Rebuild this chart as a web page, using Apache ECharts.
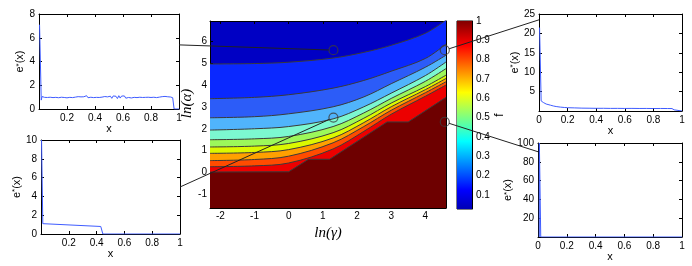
<!DOCTYPE html>
<html><head><meta charset="utf-8">
<script src="https://cdn.jsdelivr.net/npm/echarts@6/dist/echarts.min.js"></script>
<style>html,body{margin:0;padding:0;background:#fff}#c{width:692px;height:266px}</style>
</head><body><div id="c"></div>
<script>
// ---------------- DATA ----------------
// e*(x) profiles of the four inset panels
const profileTopLeft = [[0.004,7.1],[0.011,7.0],[0.016,0.75],[0.022,1.05],[0.03,1.05],[0.04,0.98],[0.05,1.02],[0.06,0.97],[0.07,1.04],[0.08,0.99],[0.09,1.01],[0.10,0.96],[0.11,1.03],[0.12,0.98],[0.13,1.06],[0.14,0.95],[0.15,1.02],[0.16,0.99],[0.17,1.04],[0.18,0.97],[0.19,1.08],[0.20,0.94],[0.21,1.05],[0.22,0.98],[0.23,1.02],[0.24,0.96],[0.25,1.03],[0.26,1.0],[0.27,0.97],[0.28,1.04],[0.29,0.99],[0.30,1.02],[0.31,0.97],[0.32,1.03],[0.33,0.98],[0.34,1.12],[0.35,0.95],[0.36,1.04],[0.37,0.99],[0.38,1.01],[0.39,0.96],[0.40,1.03],[0.41,0.98],[0.42,1.02],[0.43,0.97],[0.44,1.04],[0.45,1.0],[0.46,0.96],[0.47,1.05],[0.48,0.99],[0.49,1.02],[0.50,0.93],[0.51,1.08],[0.52,0.9],[0.53,1.1],[0.54,0.94],[0.55,1.07],[0.56,0.88],[0.57,1.12],[0.58,0.92],[0.59,1.09],[0.60,0.95],[0.61,1.1],[0.62,0.91],[0.63,1.06],[0.64,0.97],[0.65,1.11],[0.66,0.93],[0.67,1.04],[0.68,0.98],[0.69,1.02],[0.70,0.96],[0.71,1.05],[0.72,0.99],[0.73,1.01],[0.74,0.97],[0.75,1.03],[0.76,0.98],[0.77,1.02],[0.78,0.99],[0.79,1.04],[0.80,0.97],[0.81,1.01],[0.82,0.99],[0.83,1.03],[0.84,0.96],[0.85,1.02],[0.86,1.0],[0.87,0.97],[0.88,1.04],[0.89,0.98],[0.90,1.06],[0.91,0.95],[0.92,1.03],[0.93,0.99],[0.94,1.01],[0.95,1.0],[0.955,0.95],[0.965,0],[1,0]];
const profileBottomLeft = [[0.004,10],[0.009,10],[0.013,1.1],[0.43,0.8],[0.445,0],[1,0]];
const profileTopRight = [[0.004,21.5],[0.01,21.3],[0.015,2.6],[0.02,2.4],[0.03,2.2],[0.04,2.0],[0.05,1.8],[0.06,1.7],[0.08,1.5],[0.10,1.3],[0.12,1.15],[0.15,1.0],[0.18,0.9],[0.20,0.85],[0.25,0.8],[0.30,0.74],[0.35,0.72],[0.40,0.69],[0.45,0.7],[0.50,0.67],[0.55,0.68],[0.60,0.66],[0.65,0.67],[0.70,0.65],[0.75,0.66],[0.80,0.64],[0.85,0.65],[0.90,0.64],[0.93,0.63],[0.945,0.3],[0.955,0],[1,0]];
const profileBottomRight = [[0.009,0],[0.0095,100],[0.018,100],[0.019,0],[1,0]];

// contour lines of f over (ln gamma, ln alpha)
const lnGamma = [-2.3026, -1, 0, 1.3, 2.2, 3, 4, 4.6052];
const contour1 = [4.95, 4.97, 5.03, 5.22, 5.48, 5.8, 6.35, 6.95];
const contour2 = [3.37, 3.43, 3.55, 3.85, 4.2, 4.62, 5.2, 5.86];
const contour3 = [2.5, 2.55, 2.68, 3.0, 3.45, 4.05, 4.8, 5.35];
const contour4 = [1.94, 2.0, 2.1, 2.45, 3.0, 3.62, 4.42, 5.04];
const contour5 = [1.5, 1.54, 1.65, 2.1, 2.72, 3.38, 4.16, 4.74];
const contour6 = [1.17, 1.21, 1.33, 1.82, 2.48, 3.17, 3.92, 4.44];
const contour7 = [0.88, 0.92, 1.05, 1.58, 2.28, 3.0, 3.78, 4.29];
const contour8 = [0.55, 0.6, 0.75, 1.36, 2.1, 2.84, 3.64, 4.14];
const contour9 = [0.27, 0.31, 0.44, 1.08, 1.88, 2.66, 3.48, 3.99];
// boundary of the f = 1 region (stepped)
const edgeGamma = [-2.3026, 0, 0.58, 1.2, 2.88, 3.5, 4.6052];
const edgeAlpha = [0.03, 0.04, 0.61, 0.61, 2.31, 2.31, 3.43];

// marked parameter points (ln gamma, ln alpha)
const markedPoints = [[1.31, 5.58], [4.57, 5.58], [1.31, 2.51], [4.57, 2.31]];
// where the callout lines meet each inset (inset data coords)
const insetAnchors = [[1, 5.4], [0, 23.5], [1, 5.0], [0, 90.7]];

// tick labels
const mainXTicks = [-2, -1, 0, 1, 2, 3, 4];
const mainYTicks = [-1, 0, 1, 2, 3, 4, 5, 6];
const cbarTicks = [0.1, 0.2, 0.3, 0.4, 0.5, 0.6, 0.7, 0.8, 0.9, 1];

// ---------------- STYLE ----------------
const bandColors = ['#0a28ff', '#2c5cf8', '#50b4fc', '#7cf8d0', '#9cf85a', '#dcf800', '#ffa000', '#ff4c00', '#ec0000'];
const topBandColor = '#0000c4';
const fullColor = '#6e0000';
const lineBlue = '#3f5cff';
const SANS = 'Liberation Sans';
const SERIF = 'Liberation Serif';

const chart = echarts.init(document.getElementById('c'), null, {renderer: 'canvas'});

const grids = [
  {left: 39, top: 14, width: 140, height: 95},     // 0 top-left
  {left: 41, top: 140, width: 139, height: 94},    // 1 bottom-left
  {left: 210, top: 21, width: 236, height: 187, show: true, backgroundColor: topBandColor, borderWidth: 0}, // 2 main
  {left: 457, top: 21, width: 15, height: 188, show: true, borderColor: '#000', borderWidth: 1}, // 3 colorbar
  {left: 539, top: 14, width: 143, height: 97},    // 4 top-right
  {left: 538, top: 143, width: 144, height: 94}    // 5 bottom-right
];

const xAxes = [], yAxes = [], series = [];
const lineAx = {show: true, onZero: false, lineStyle: {color: '#000', width: 1}};
const tickIn = (extra) => Object.assign({show: true, inside: true, length: 3, lineStyle: {color: '#000', width: 1}}, extra || {});
const lbl = (extra) => Object.assign({color: '#000', fontSize: 10, fontFamily: SANS}, extra || {});

const eName = '{a|e}{s|*}{a|(x)}';
const eNameStyle = {rich: {a: {fontSize: 11, fontFamily: SANS, color: '#000'}, s: {fontSize: 8, fontFamily: SANS, color: '#000', verticalAlign: 'top'}}};

function addInset(gi, ymax, yint, showY0, showX0, xGap, yGap) {
  const xi = xAxes.length, yi = yAxes.length;
  xAxes.push({gridIndex: gi, type: 'value', position: 'bottom', min: 0, max: 1, interval: 0.2,
    axisLine: lineAx, axisTick: tickIn(), splitLine: {show: false},
    axisLabel: lbl({margin: 4, showMinLabel: showX0}),
    name: 'x', nameLocation: 'middle', nameGap: xGap, nameTextStyle: {fontSize: 11, fontFamily: SANS, color: '#000'}});
  xAxes.push({gridIndex: gi, type: 'value', position: 'top', min: 0, max: 1, interval: 0.2,
    axisLine: lineAx, axisTick: tickIn(), splitLine: {show: false}, axisLabel: {show: false}});
  yAxes.push({gridIndex: gi, type: 'value', position: 'left', min: 0, max: ymax, interval: yint,
    axisLine: lineAx, axisTick: tickIn(), splitLine: {show: false},
    axisLabel: lbl({margin: 4, showMinLabel: showY0}),
    name: eName, nameLocation: 'middle', nameGap: yGap, nameRotate: 90, nameTextStyle: eNameStyle});
  yAxes.push({gridIndex: gi, type: 'value', position: 'right', min: 0, max: ymax, interval: yint,
    axisLine: lineAx, axisTick: tickIn(), splitLine: {show: false}, axisLabel: {show: false}});
  return {xi, yi};
}

const pTL = addInset(0, 8, 2, true, false, 9, 13);
const pBL = addInset(1, 10, 2, true, false, 9, 15);

// main contour panel
const pMain = {xi: xAxes.length, yi: yAxes.length};
xAxes.push({gridIndex: 2, type: 'value', position: 'bottom', min: -2.3026, max: 4.6052,
  axisLine: lineAx, axisTick: tickIn({customValues: mainXTicks}), splitLine: {show: false},
  axisLabel: lbl({margin: 3, customValues: mainXTicks}),
  name: 'ln(γ)', nameLocation: 'middle', nameGap: 8,
  nameTextStyle: {fontSize: 15, fontFamily: SERIF, fontStyle: 'italic', color: '#000'}});
xAxes.push({gridIndex: 2, type: 'value', position: 'top', min: -2.3026, max: 4.6052,
  axisLine: lineAx, axisTick: tickIn({customValues: mainXTicks}), splitLine: {show: false}, axisLabel: {show: false}});
yAxes.push({gridIndex: 2, type: 'value', position: 'left', min: -1.6094, max: 6.9078,
  axisLine: lineAx, axisTick: tickIn({customValues: mainYTicks}), splitLine: {show: false},
  axisLabel: lbl({margin: 3, customValues: mainYTicks}),
  name: 'ln(α)', nameLocation: 'middle', nameGap: 6, nameRotate: 90,
  nameTextStyle: {fontSize: 15, fontFamily: SERIF, fontStyle: 'italic', color: '#000', padding: [0, 0, 0, 22]}});
yAxes.push({gridIndex: 2, type: 'value', position: 'right', min: -1.6094, max: 6.9078,
  axisLine: lineAx, axisTick: tickIn({customValues: mainYTicks}), splitLine: {show: false}, axisLabel: {show: false}});

// colorbar
const pBar = {xi: xAxes.length, yi: yAxes.length};
xAxes.push({gridIndex: 3, type: 'category', data: ['f'], show: false});
yAxes.push({gridIndex: 3, type: 'value', position: 'right', min: 0.028, max: 1,
  axisLine: lineAx, axisTick: tickIn({customValues: cbarTicks}), splitLine: {show: false},
  axisLabel: lbl({margin: 4, customValues: cbarTicks}),
  name: 'f', nameLocation: 'middle', nameGap: 12, nameRotate: 90,
  nameTextStyle: {fontSize: 12, fontFamily: SANS, color: '#000'}});

const pTR = addInset(4, 25, 5, false, true, 9, 17);
const pBR = addInset(5, 100, 20, false, true, 9, 20);

// inset profile series
[[pTL, profileTopLeft], [pBL, profileBottomLeft], [pTR, profileTopRight], [pBR, profileBottomRight]].forEach(([p, d]) => {
  series.push({type: 'line', xAxisIndex: p.xi, yAxisIndex: p.yi, data: d, showSymbol: false, symbol: 'none',
    lineStyle: {color: lineBlue, width: 1}, clip: true});
});

// filled contours
const contours = [contour1, contour2, contour3, contour4, contour5, contour6, contour7, contour8, contour9];
contours.forEach((c, k) => {
  series.push({type: 'line', xAxisIndex: pMain.xi, yAxisIndex: pMain.yi,
    data: lnGamma.map((g, i) => [g, c[i]]), smooth: 0.35, symbol: 'none', showSymbol: false, clip: true,
    lineStyle: {color: '#3a3a3a', width: 1}, areaStyle: {color: bandColors[k], opacity: 1, origin: 'start'}});
});
series.push({type: 'line', xAxisIndex: pMain.xi, yAxisIndex: pMain.yi,
  data: edgeGamma.map((g, i) => [g, edgeAlpha[i]]), symbol: 'none', showSymbol: false, clip: true,
  lineStyle: {color: '#3a3a3a', width: 1}, areaStyle: {color: fullColor, opacity: 1, origin: 'start'}});
series.push({type: 'scatter', xAxisIndex: pMain.xi, yAxisIndex: pMain.yi, data: markedPoints,
  symbol: 'circle', symbolSize: 9, clip: false, z: 5,
  itemStyle: {color: 'rgba(0,0,0,0)', borderColor: '#3c3c3c', borderWidth: 1.2}});

// colorbar
series.push({type: 'bar', xAxisIndex: pBar.xi, yAxisIndex: pBar.yi, data: [1], barWidth: '100%',
  itemStyle: {color: new echarts.graphic.LinearGradient(0, 1, 0, 0, [
    {offset: 0, color: '#0000b4'}, {offset: 0.1, color: '#0000ff'}, {offset: 0.36, color: '#00ffff'},
    {offset: 0.62, color: '#ffff00'}, {offset: 0.87, color: '#ff0000'}, {offset: 1, color: '#800000'}])}});

chart.setOption({animation: false, grid: grids, xAxis: xAxes, yAxis: yAxes, series: series});

// callout lines from marked points to insets
const insets = [pTL, pTR, pBL, pBR];
const graphics = [];
insets.forEach((p, k) => {
  const a = chart.convertToPixel({xAxisIndex: p.xi, yAxisIndex: p.yi}, insetAnchors[k]);
  const c = chart.convertToPixel({xAxisIndex: pMain.xi, yAxisIndex: pMain.yi}, markedPoints[k]);
  const dx = a[0] - c[0], dy = a[1] - c[1], L = Math.sqrt(dx * dx + dy * dy), r = 4.5;
  graphics.push({type: 'line', z: 100, silent: true,
    shape: {x1: a[0], y1: a[1], x2: c[0] + dx / L * r, y2: c[1] + dy / L * r},
    style: {stroke: '#222', lineWidth: 1}});
});
chart.setOption({graphic: graphics});
</script></body></html>
